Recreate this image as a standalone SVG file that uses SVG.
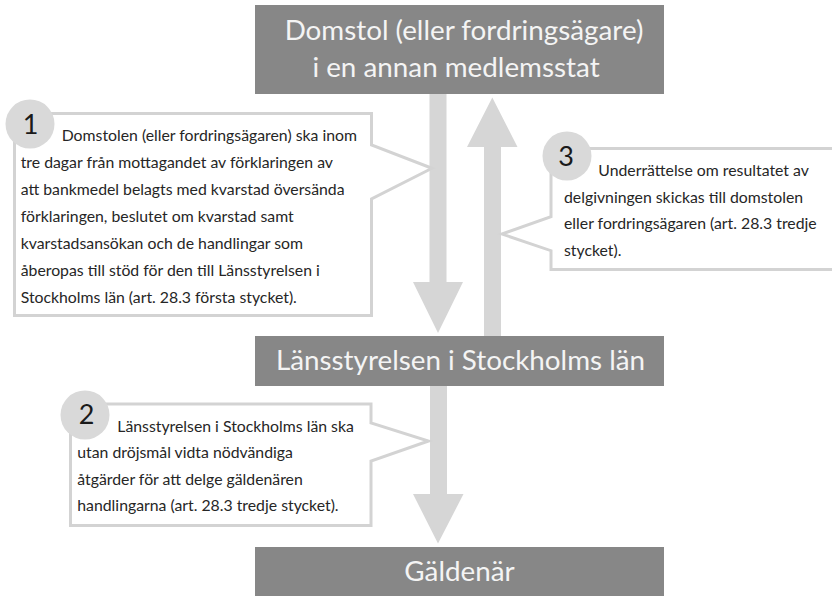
<svg xmlns="http://www.w3.org/2000/svg" width="832" height="596" viewBox="0 0 832 596">
<style>
.box{fill:#878787}
.bt{font-family:Lato,"Open Sans","Liberation Sans",sans-serif;font-size:27.8px;fill:#f4f4f4;text-anchor:middle}
.arr{fill:#d6d6d6}
.call{fill:#ffffff;stroke:#d3d3d3;stroke-width:3;stroke-linejoin:miter}
.circ{fill:#d9d9d9}
.num{font-family:Lato,"Open Sans","Liberation Sans",sans-serif;font-size:27px;fill:#1a1a1a;text-anchor:middle}
.ct{font-family:Lato,"Open Sans","Liberation Sans",sans-serif;font-size:15.8px;fill:#262626}
</style>
<rect width="832" height="596" fill="#ffffff"/>
<g id="connectors">
<path class="arr" d="M429.5,94 H446.5 V282 H463 L438,333 L413,282 H429.5 Z"/>
<path class="arr" d="M484,336 H501 V147 H517.5 L492.3,97.5 L467,147 H484 Z"/>
<path class="arr" d="M430,386 H447 V494 H463.5 L438,543.5 L413,494 H430 Z"/>
</g>
<g id="node-domstol">
<rect class="box" x="255" y="5" width="409" height="89"/>
<text class="bt" x="464" y="40">Domstol (eller fordringsägare)</text>
<text class="bt" x="456" y="77">i en annan medlemsstat</text>
</g>
<g id="node-lansstyrelsen">
<rect class="box" x="255" y="336" width="409" height="50"/>
<text class="bt" x="460.5" y="370">Länsstyrelsen i Stockholms län</text>
</g>
<g id="node-galdenar">
<rect class="box" x="255" y="547" width="409" height="55"/>
<text class="bt" x="459.5" y="581">Gäldenär</text>
</g>
<g id="callout-1">
<path class="call" d="M14.5,113.5 H371.5 V145 L432,168.3 L371.5,199 V315.5 H14.5 Z"/>
<circle class="circ" cx="30" cy="124" r="24.5"/>
<text class="num" x="30.5" y="134">1</text>
<text class="ct">
<tspan x="61.7" y="140.5">Domstolen (eller fordringsägaren) ska inom</tspan>
<tspan x="20.7" y="167.5">tre dagar från mottagandet av förklaringen av</tspan>
<tspan x="20.7" y="194.5">att bankmedel belagts med kvarstad översända</tspan>
<tspan x="20.7" y="221.5">förklaringen, beslutet om kvarstad samt</tspan>
<tspan x="20.7" y="248.5">kvarstadsansökan och de handlingar som</tspan>
<tspan x="20.7" y="275.5">åberopas till stöd för den till Länsstyrelsen i</tspan>
<tspan x="20.7" y="302.5">Stockholms län (art. 28.3 första stycket).</tspan>
</text>
</g>
<g id="callout-2">
<path class="call" d="M70.5,404 H371 V423 L428.5,441 L371,461 V525.5 H70.5 Z"/>
<circle class="circ" cx="85" cy="415" r="24.5"/>
<text class="num" x="86.5" y="424">2</text>
<text class="ct">
<tspan x="117.3" y="431.5">Länsstyrelsen  i Stockholms län ska</tspan>
<tspan x="77.3" y="458">utan dröjsmål vidta nödvändiga</tspan>
<tspan x="77.3" y="484.5">åtgärder för att delge gäldenären</tspan>
<tspan x="77.3" y="511">handlingarna (art. 28.3 tredje stycket).</tspan>
</text>
</g>
<g id="callout-3">
<path class="call" d="M840,148.5 H551 V216.7 L502,234 L551,250.7 V269.5 H840"/>
<circle class="circ" cx="567" cy="156" r="24.5"/>
<text class="num" x="566" y="166">3</text>
<text class="ct">
<tspan x="598.3" y="176">Underrättelse om resultatet av</tspan>
<tspan x="564" y="202.5">delgivningen skickas till domstolen</tspan>
<tspan x="564" y="229">eller fordringsägaren (art. 28.3 tredje</tspan>
<tspan x="564" y="255.5">stycket).</tspan>
</text>
</g>
</svg>
